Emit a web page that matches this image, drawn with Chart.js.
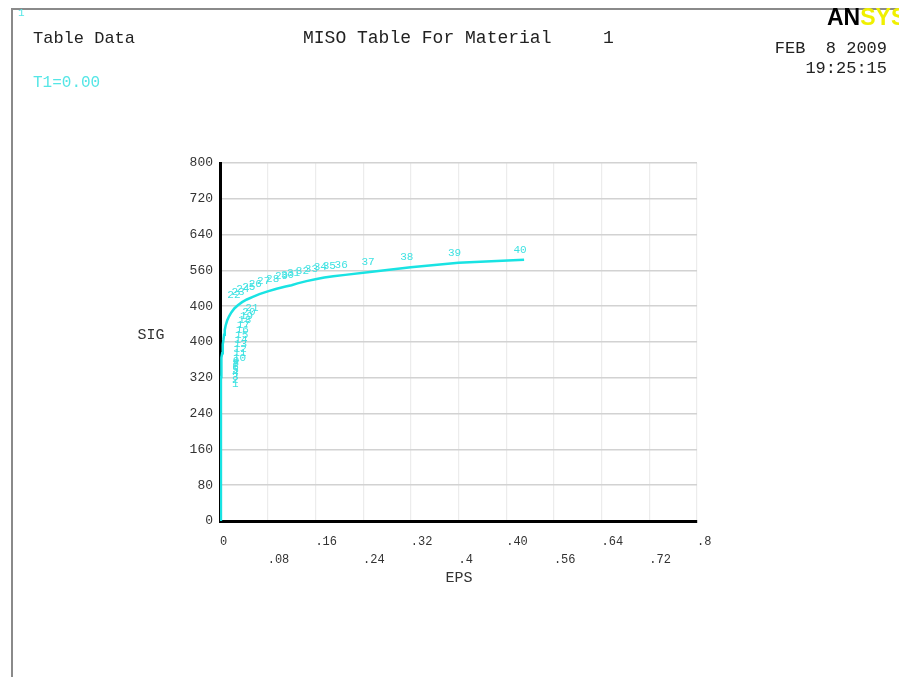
<!DOCTYPE html>
<html>
<head>
<meta charset="utf-8">
<title>MISO Table For Material 1</title>
<script src="https://cdn.jsdelivr.net/npm/chart.js@4.4.1/dist/chart.umd.min.js"></script>
<style>
  html, body { margin: 0; padding: 0; background: #fff; }
  canvas { display: block; }
</style>
</head>
<body>
<canvas id="misoChart" width="899" height="677"></canvas>
<script>
// MISO table points (origin first, then table points 1..40)
const epsValues = [0,
    0.0015, 0.0016, 0.0017, 0.0018, 0.0019, 0.002, 0.0022, 0.0025, 0.0028, 0.0032,
    0.0037, 0.0043, 0.005, 0.0058, 0.0068, 0.008, 0.0095, 0.012, 0.015, 0.019,
    0.024, 0.03, 0.037, 0.045, 0.055, 0.066, 0.08, 0.095, 0.11, 0.12,
    0.13, 0.145, 0.16, 0.175, 0.19, 0.21, 0.255, 0.32, 0.40, 0.51];
const sigValues = [0,
    305, 315, 322, 330, 337, 343, 348, 353, 358, 365,
    375, 385, 395, 405, 416, 427, 437, 448, 457, 466,
    475, 482, 489, 495, 501, 507, 513, 519, 524, 527,
    531, 536, 540, 544, 547, 550, 557, 567, 577, 584];

const xTickValues = [0, 0.08, 0.16, 0.24, 0.32, 0.4, 0.48, 0.56, 0.64, 0.72, 0.8];
const xTickLabels = ['0', '.08', '.16', '.24', '.32', '.4', '.40', '.56', '.64', '.72', '.8'];
const yTickValues = [0, 80, 160, 240, 320, 400, 480, 560, 640, 720, 800];
const yTickLabels = ['0', '80', '160', '240', '320', '400', '400', '560', '640', '720', '800'];

const MONO = '"Liberation Mono", "DejaVu Sans Mono", monospace';

// white page + grey frame
const framePlugin = {
    id: 'frame',
    beforeDraw(chart) {
        const c = chart.ctx;
        c.save();
        c.fillStyle = '#fff';
        c.fillRect(0, 0, chart.width, chart.height);
        c.strokeStyle = '#8a8a8a';
        c.lineWidth = 2;
        c.beginPath();
        c.moveTo(12, chart.height);
        c.lineTo(12, 9);
        c.lineTo(chart.width, 9);
        c.stroke();
        c.restore();
    }
};

// numbers next to each table point
const pointLabels = {
    id: 'pointLabels',
    afterDatasetsDraw(chart) {
        const c = chart.ctx;
        const pts = chart.getDatasetMeta(0).data;
        c.save();
        c.font = '11px ' + MONO;
        c.fillStyle = '#3fe2e2';
        c.textBaseline = 'middle';
        for (let i = 1; i < pts.length; i++) {
            const prev = pts[i - 1];
            const next = pts[Math.min(i + 1, pts.length - 1)];
            const dx = Math.abs(next.x - prev.x);
            const dy = Math.abs(next.y - prev.y);
            if (dy > dx) {
                c.textAlign = 'left';
                c.fillText(String(i), pts[i].x + 11, pts[i].y);
            } else {
                c.textAlign = 'center';
                c.fillText(String(i), pts[i].x - 4, pts[i].y - 10);
            }
        }
        c.restore();
    }
};

// header / axis captions
const captions = {
    id: 'captions',
    afterDraw(chart) {
        const c = chart.ctx;
        c.save();
        c.textBaseline = 'middle';
        c.fillStyle = '#222';
        c.textAlign = 'left';
        c.font = '17px ' + MONO;
        c.fillText('Table Data', 33, 38);
        c.font = '18px ' + MONO;
        c.fillText('MISO Table For Material', 303, 38);
        c.fillText('1', 603, 38);

        c.font = '17px ' + MONO;
        c.textAlign = 'right';
        c.fillText('FEB  8 2009', 887, 48);
        c.fillText('19:25:15', 887, 68);

        // logo
        c.textAlign = 'left';
        c.font = 'bold 23px "Liberation Sans", Arial, sans-serif';
        c.fillStyle = '#000';
        c.fillText('AN', 827, 19);
        const w = c.measureText('AN').width;
        c.fillStyle = '#f0f000';
        c.fillText('SYS', 827 + w, 19);

        c.fillStyle = '#55e6e6';
        c.font = '16px ' + MONO;
        c.fillText('T1=0.00', 33, 83);
        c.font = '11px ' + MONO;
        c.fillText('1', 18, 13);

        c.fillStyle = '#333';
        c.font = '15px ' + MONO;
        c.textAlign = 'center';
        c.fillText('SIG', 151, 335);
        c.fillText('EPS', 459, 578);
        c.restore();
    }
};

const ctx = document.getElementById('misoChart').getContext('2d');
const misoChart = new Chart(ctx, {
    type: 'line',
    data: {
        datasets: [{
            data: epsValues.map((e, i) => ({ x: e, y: sigValues[i] })),
            borderColor: '#19e3e3',
            borderWidth: 2.5,
            pointRadius: 0,
            tension: 0,
            fill: false
        }]
    },
    options: {
        responsive: false,
        animation: false,
        layout: { padding: { left: 160, right: 202, top: 163, bottom: 108 } },
        plugins: {
            legend: { display: false },
            tooltip: { enabled: false }
        },
        scales: {
            x: {
                type: 'linear',
                min: 0,
                max: 0.8,
                afterBuildTicks: s => { s.ticks = xTickValues.map(v => ({ value: v })); },
                afterFit: s => { s.height = 48; },
                border: { color: '#000', width: 3 },
                grid: { color: '#ececec', lineWidth: 1.2, drawTicks: false },
                ticks: {
                    autoSkip: false,
                    maxRotation: 0,
                    align: 'start',
                    padding: 12,
                    color: '#333',
                    font: { family: MONO, size: 12, lineHeight: 1.5 },
                    callback: (v, i) => i % 2 === 0 ? [xTickLabels[i], ''] : ['', xTickLabels[i]]
                }
            },
            y: {
                min: 0,
                max: 800,
                afterBuildTicks: s => { s.ticks = yTickValues.map(v => ({ value: v })); },
                afterFit: s => { s.width = 60; },
                border: { color: '#000', width: 3 },
                grid: { color: '#d2d2d2', lineWidth: 1.5, drawTicks: false },
                ticks: {
                    autoSkip: false,
                    padding: 7,
                    color: '#333',
                    font: { family: MONO, size: 13 },
                    callback: (v, i) => yTickLabels[i]
                }
            }
        }
    },
    plugins: [framePlugin, pointLabels, captions]
});
</script>
</body>
</html>
